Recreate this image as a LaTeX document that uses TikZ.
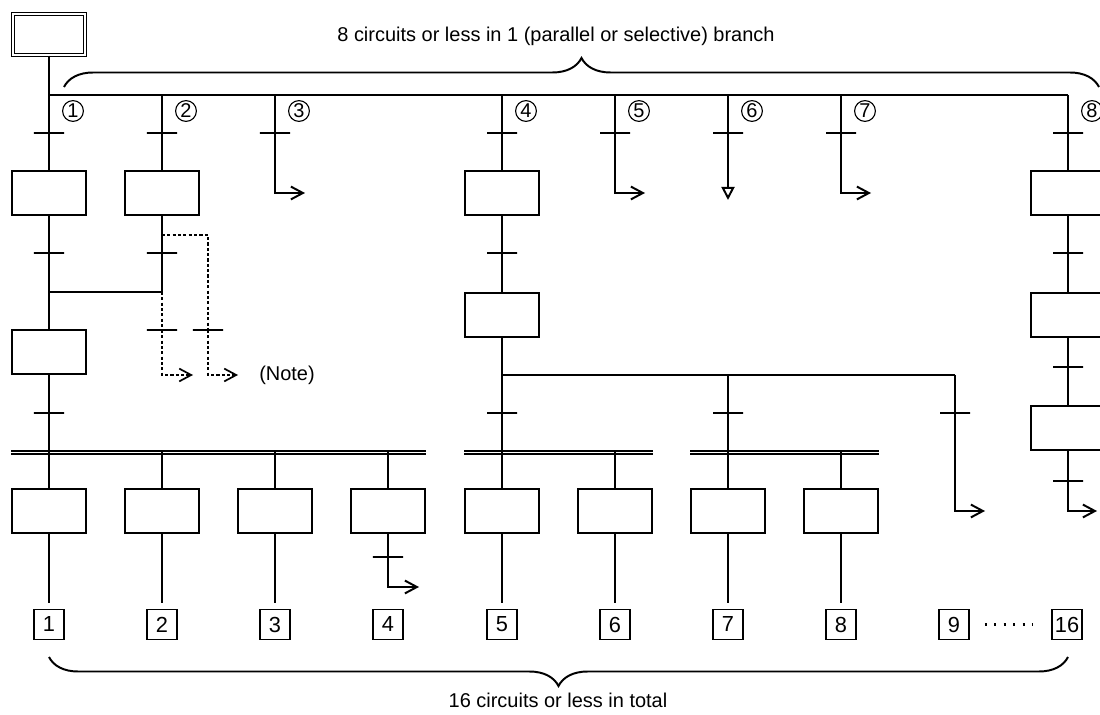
\documentclass[tikz,border=0pt]{standalone}
\usepackage{fontspec}
\setmainfont{Liberation Sans}
\usetikzlibrary{arrows.meta,decorations.pathreplacing,positioning,calc}

\tikzset{
  stepbox/.style={draw, minimum width=1.85cm, minimum height=1.1cm, inner sep=0pt},
  initbox/.style={draw, line width=0.9pt, double, double distance=1.3pt, minimum width=1.8cm, minimum height=1.03cm, inner sep=0pt},
  trans/.style={draw, minimum width=0.75cm, minimum height=0pt, inner sep=0pt, outer sep=0pt},
  numbox/.style={draw, line width=1.2pt, minimum size=0.75cm, inner sep=0pt, font=\fontsize{15.5}{17}\selectfont},
  circnum/.style={draw, circle, line width=0.8pt, minimum size=0.52cm, inner sep=0pt},
  jump/.style={-{Straight Barb[length=0.3cm, width=0.32cm]}},
  notepath/.style={dash pattern=on 2.2pt off 1.6pt, line width=1.2pt},
  parbar/.style={double, double distance=1.4pt}
}

\begin{document}
\begin{tikzpicture}[x=0.025cm, y=-0.025cm, line width=1.4pt, font=\fontsize{14.2}{17}\selectfont]
\useasboundingbox (0,0) rectangle (1100,715);
\clip (0,0) rectangle (1100,715);

% Initial step and the branch line
\node[initbox] (ist) at (49,34.5) {};
\coordinate (br1) at (49,95);
\coordinate (br8) at (1068,95);
\draw (ist) -- (br1) -- (br8);

% Top brace
\coordinate (tbl) at (64,87);
\coordinate (tbr) at (1099,87);
\draw[decorate, decoration={brace, amplitude=0.725cm}] (tbl) -- (tbr);
\node (ttop) at (556,36) {8 circuits or less in 1 (parallel or selective) branch};

% Branch heads
\foreach \n/\x in {1/49,2/162,3/275,4/502,5/615,6/728,7/841,8/1068} {
  \coordinate (b\n) at (\x,95);
  \node[circnum] (c\n) at (\x+24,111) {\n};
  \node[trans] (ta\n) at (\x,133) {};
  \draw (b\n) -- (ta\n);
}

% First steps
\foreach \n/\x in {1/49,2/162,4/502,8/1068} {
  \node[stepbox] (sa\n) at (\x,193) {};
  \draw (ta\n) -- (sa\n);
}

% Jumps
\foreach \n/\x in {3/275,5/615,7/841} {
  \coordinate (ja\n) at (\x+30,193);
  \draw[jump] (ta\n) |- (ja\n);
}
\coordinate (ja6) at (728,200);
\draw[-{Triangle[open, length=0.33cm, width=0.33cm]}] (ta6) -- (ja6);

% Branches 1 and 2 join
\node[trans] (tb1) at (49,253) {};
\node[trans] (tb2) at (162,253) {};
\draw (sa1) -- (tb1);
\draw (sa2) -- (tb2);
\coordinate (jn1) at (49,292);
\coordinate (jn2) at (162,292);
\draw (tb1) -- (jn1) -- (jn2) -- (tb2);
\node[stepbox] (sb1) at (49,352) {};
\draw (jn1) -- (sb1);

% (Note) paths
\coordinate (d1) at (162,235);
\coordinate (d2) at (208,235);
\node[trans] (tn1) at (162,330) {};
\node[trans] (tn2) at (208,330) {};
\coordinate (jn3) at (193,375);
\coordinate (jn4) at (238,375);
\draw[notepath] (jn2) -- (tn1);
\draw[notepath, jump] (tn1) |- (jn3);
\draw[notepath] (d1) -- (d2) -- (tn2);
\draw[notepath, jump] (tn2) |- (jn4);
\node (note) at (287,375) {(Note)};

% Branch 4 and its selection
\node[trans] (tb4) at (502,253) {};
\node[stepbox] (sb4) at (502,315) {};
\draw (sa4) -- (tb4);
\draw (tb4) -- (sb4);
\coordinate (sel4) at (502,375);
\coordinate (sel6) at (728,375);
\coordinate (sel9) at (955,375);
\draw (sb4) -- (sel4) -- (sel9);

% Third transitions
\node[trans] (tc1) at (49,413) {};
\node[trans] (tc4) at (502,413) {};
\node[trans] (tc6) at (728,413) {};
\node[trans] (tc9) at (955,413) {};
\draw (sb1) -- (tc1);
\draw (sel4) -- (tc4);
\draw (sel6) -- (tc6);
\draw (sel9) -- (tc9);
\coordinate (jc9) at (985,511);
\draw[jump] (tc9) |- (jc9);

% Parallel bars
\coordinate (pal) at (11,452.5);
\coordinate (par) at (426,452.5);
\coordinate (pbl) at (464,452.5);
\coordinate (pbr) at (653,452.5);
\coordinate (pcl) at (690,452.5);
\coordinate (pcr) at (879,452.5);
\draw[parbar] (pal) -- (par);
\draw[parbar] (pbl) -- (pbr);
\draw[parbar] (pcl) -- (pcr);

% Lower steps
\foreach \n/\x in {1/49,2/162,3/275,4/388,5/502,6/615,7/728,8/841} {
  \coordinate (p\n) at (\x,452.5);
  \node[stepbox] (lb\n) at (\x,511) {};
  \draw (p\n) -- (lb\n);
}
\draw (tc1) -- (p1);
\draw (tc4) -- (p5);
\draw (tc6) -- (p7);

% Circuit numbers
\foreach \n/\x in {1/49,2/162,3/275,4/388,5/502,6/615,7/728,8/841,9/954,16/1067} {
  \node[numbox] (nb\n) at (\x,624.5) {\n};
}
\foreach \n in {1,2,3,5,6,7,8} {
  \draw[shorten >=0.15cm] (lb\n) -- (nb\n);
}
\node[trans] (tl4) at (388,557) {};
\coordinate (jl4) at (419,587);
\draw (lb4) -- (tl4);
\draw[jump] (tl4) |- (jl4);
\draw[line width=2pt, dash pattern=on 1.4pt off 5.3pt] ([xshift=0.375cm]nb9.east) -- ([xshift=-0.45cm]nb16.west);

% Branch 8
\node[trans] (tb8) at (1068,253) {};
\node[stepbox] (sb8) at (1068,315) {};
\node[trans] (tc8) at (1068,367) {};
\node[stepbox] (sc8) at (1068,428) {};
\node[trans] (td8) at (1068,481) {};
\coordinate (jd8) at (1097,511);
\draw (sa8) -- (tb8) -- (sb8);
\draw (sb8) -- (tc8) -- (sc8);
\draw (sc8) -- (td8);
\draw[jump] (td8) |- (jd8);

% Bottom brace
\coordinate (bbl) at (49,657);
\coordinate (bbr) at (1068,657);
\draw[decorate, decoration={brace, mirror, amplitude=0.725cm}] (bbl) -- (bbr);
\node (tbot) at (558,700) {16 circuits or less in total};
\end{tikzpicture}
\end{document}
